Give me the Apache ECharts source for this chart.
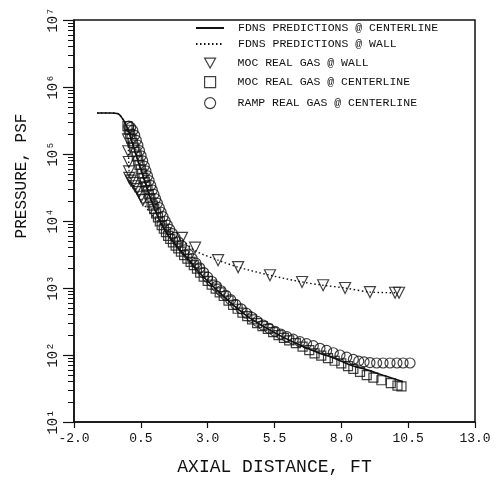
<!DOCTYPE html>
<html>
<head>
<meta charset="utf-8">
<script src="https://cdn.jsdelivr.net/npm/echarts@6/dist/echarts.min.js"></script>
<style>
  html, body { margin: 0; padding: 0; background: #fff; }
  #main { width: 503px; height: 489px; }
</style>
</head>
<body>
<div id="main"></div>
<script>
// FDNS predictions, centerline (solid line)
var fdnsCenterX = [-1.14, -0.65, -0.35, -0.17, -0.05, 0.10, 0.24, 0.39, 0.54, 0.69, 0.84, 1.03, 1.29, 1.59, 1.97, 2.34, 2.71, 3.35, 3.95, 4.58, 5.22, 5.82, 6.45, 7.09, 7.69, 8.33, 8.96, 9.56, 10.31];
var fdnsCenterP = [410000, 410000, 400000, 330000, 270000, 190000, 123000, 81000, 54000, 35000, 23000, 14500, 8700, 5600, 3700, 2500, 1660, 930, 560, 355, 250, 185, 141, 110, 91, 71, 60, 50, 40];

// FDNS predictions, wall (dotted line)
var fdnsWallX = [-1.14, -0.65, -0.35, -0.17, -0.05, 0.02, 0.04, 0.07, 0.15, 0.30, 0.47, 0.77, 1.14, 1.59, 2.04, 2.53, 3.39, 4.14, 5.33, 6.53, 7.32, 8.14, 9.07, 10.12];
var fdnsWallP = [410000, 410000, 400000, 330000, 270000, 180000, 100000, 50000, 38000, 30000, 22000, 14500, 9800, 6600, 5200, 3600, 2600, 2050, 1550, 1230, 1100, 1000, 870, 850];

// MOC real gas @ wall (triangles)
var mocWallX = [0.02, 0.03, 0.05, 0.06, 0.07, 0.13, 0.21, 0.28, 0.36, 0.43, 0.51, 0.58, 2.04, 2.53, 3.39, 4.14, 5.33, 6.53, 7.32, 8.14, 9.07, 10.01, 10.16];
var mocWallP = [165000, 110000, 76000, 55000, 44000, 40000, 37000, 33000, 30000, 27000, 23000, 20500, 5600, 4000, 2600, 2050, 1550, 1230, 1100, 1000, 870, 850, 850];

// MOC real gas @ centerline (squares)
var mocCenterX = [0.00, 0.05, 0.10, 0.15, 0.20, 0.25, 0.30, 0.35, 0.40, 0.45, 0.50, 0.55, 0.60, 0.65, 0.70, 0.75, 0.80, 0.85, 0.90, 0.95, 1.00, 1.07, 1.14, 1.21, 1.28, 1.36, 1.44, 1.52, 1.60, 1.70, 1.80, 1.90, 2.00, 2.12, 2.24, 2.36, 2.48, 2.60, 2.72, 2.85, 3.00, 3.15, 3.30, 3.45, 3.60, 3.78, 3.95, 4.12, 4.30, 4.48, 4.66, 4.85, 5.05, 5.25, 5.45, 5.65, 5.85, 6.05, 6.30, 6.55, 6.80, 7.00, 7.25, 7.50, 7.75, 8.00, 8.25, 8.45, 8.70, 8.95, 9.20, 9.50, 9.85, 10.10, 10.25];
var mocCenterP = [260000, 230000, 200000, 170000, 145000, 125000, 108000, 92000, 80000, 69000, 59000, 51000, 44000, 38000, 33000, 29000, 25000, 22000, 19000, 17000, 15000, 13000, 11300, 9900, 8700, 7700, 6800, 6000, 5400, 4800, 4300, 3900, 3500, 3100, 2750, 2450, 2200, 1950, 1700, 1480, 1280, 1120, 980, 860, 760, 650, 560, 490, 430, 380, 340, 300, 270, 245, 220, 198, 180, 165, 150, 133, 118, 106, 98, 90, 82, 75, 68, 62, 56, 50, 46, 42, 38, 35, 34];

// RAMP real gas @ centerline (circles)
var rampCenterX = [0.05, 0.12, 0.20, 0.27, 0.33, 0.39, 0.45, 0.51, 0.57, 0.63, 0.69, 0.75, 0.81, 0.87, 0.93, 0.99, 1.05, 1.12, 1.19, 1.26, 1.33, 1.41, 1.49, 1.58, 1.68, 1.78, 1.90, 2.02, 2.15, 2.28, 2.42, 2.56, 2.70, 2.85, 3.00, 3.16, 3.33, 3.50, 3.68, 3.86, 4.05, 4.25, 4.45, 4.65, 4.86, 5.08, 5.30, 5.52, 5.74, 5.96, 6.20, 6.45, 6.70, 6.95, 7.20, 7.45, 7.70, 7.95, 8.20, 8.45, 8.65, 8.85, 9.07, 9.32, 9.56, 9.82, 10.08, 10.31, 10.57];
var rampCenterP = [260000, 250000, 225000, 190000, 160000, 135000, 112000, 94000, 79000, 66000, 56000, 47000, 40000, 34000, 29000, 25000, 21500, 18500, 15800, 13500, 11600, 10000, 8700, 7500, 6500, 5700, 4900, 4300, 3700, 3200, 2750, 2350, 2000, 1700, 1450, 1250, 1060, 910, 780, 670, 570, 490, 420, 365, 318, 280, 250, 225, 205, 188, 172, 158, 148, 138, 126, 117, 108, 100, 93, 86, 81, 79, 77, 76, 76, 76, 76, 76, 76];

var xTicks = [-2, 0.5, 3, 5.5, 8, 10.5, 13];
var yTicks = [10, 100, 1000, 10000, 100000, 1000000, 10000000];
var yMinorTicks = [];
yTicks.slice(0, -1).forEach(function (d) {
  for (var k = 2; k <= 9; k++) yMinorTicks.push(d * k);
});
var supers = { 1: "\u00b9", 2: "\u00b2", 3: "\u00b3", 4: "\u2074", 5: "\u2075", 6: "\u2076", 7: "\u2077" };

function pairs(xs, ys) {
  return xs.map(function (x, i) { return [x, ys[i]]; });
}

var FONT = "Liberation Mono";
var INK = "#111";
var names = [
  "FDNS PREDICTIONS @ CENTERLINE",
  "FDNS PREDICTIONS @ WALL",
  "MOC REAL GAS @ WALL",
  "MOC REAL GAS @ CENTERLINE",
  "RAMP REAL GAS @ CENTERLINE"
];
var legendRows = [22, 38, 57, 76, 97];
// line samples are wide, marker samples are single glyphs
var legendIcons = [null, null, "path://M0,0 L10,0 L5,9 Z", "rect", "circle"];

var chart = echarts.init(document.getElementById("main"));
var hollow = { color: "rgba(0,0,0,0)", borderColor: INK, borderWidth: 1.2 };

chart.setOption({
  backgroundColor: "#fff",
  animation: false,
  grid: {
    left: 74, right: 28, top: 20, bottom: 67,
    show: true, borderColor: INK, borderWidth: 1.5
  },
  legend: names.map(function (n, i) {
    var isLine = i < 2;
    var item = { name: n };
    if (isLine) {
      item.itemStyle = { opacity: 0 };
    } else {
      item.icon = legendIcons[i];
      item.itemStyle = { color: "rgba(0,0,0,0)", borderColor: INK, borderWidth: 1.2 };
    }
    return {
      data: [item],
      left: isLine ? 195 : 204,
      top: legendRows[i],
      orient: "vertical",
      itemWidth: isLine ? 28 : 11,
      itemHeight: 11,
      padding: 0,
      selectedMode: false,
      textStyle: { fontFamily: FONT, fontSize: 11.5, color: INK, padding: [0, 0, 0, isLine ? 9 : 17] }
    };
  }),
  xAxis: {
    type: "value",
    min: -2,
    max: 13,
    name: "AXIAL DISTANCE, FT",
    nameLocation: "middle",
    nameGap: 36,
    nameTextStyle: { fontFamily: FONT, fontSize: 18, color: INK },
    axisLine: { onZero: false, lineStyle: { color: INK, width: 1.5 } },
    axisTick: { customValues: xTicks, length: 6, lineStyle: { color: INK, width: 1.2 } },
    axisLabel: {
      customValues: xTicks,
      margin: 10,
      fontFamily: FONT, fontSize: 13, color: INK,
      formatter: function (v) { return v.toFixed(1); }
    },
    splitLine: { show: false }
  },
  yAxis: [
    {
      type: "log",
      logBase: 10,
      min: 10,
      max: 10000000,
      name: "PRESSURE, PSF",
      nameLocation: "middle",
      nameGap: 44,
      nameRotate: 90,
      nameTextStyle: { fontFamily: FONT, fontSize: 16, color: INK, padding: [0, 0, 0, 90] },
      axisLine: { show: true, onZero: false, lineStyle: { color: INK, width: 1.5 } },
      axisTick: { customValues: yTicks, length: 11, lineStyle: { color: INK, width: 1.2 } },
      axisLabel: {
        customValues: yTicks,
        rotate: 90,
        margin: 14,
        fontFamily: FONT, fontSize: 14, color: INK,
        formatter: function (v) { return "10" + supers[Math.round(Math.log10(v))]; }
      },
      splitLine: { show: false }
    },
    {
      type: "log",
      logBase: 10,
      min: 10,
      max: 10000000,
      position: "left",
      axisLine: { show: false, onZero: false },
      axisTick: { customValues: yMinorTicks, length: 6, lineStyle: { color: INK, width: 1 } },
      axisLabel: { show: false },
      splitLine: { show: false }
    }
  ],
  series: [
    {
      name: names[0],
      type: "line",
      data: pairs(fdnsCenterX, fdnsCenterP),
      symbol: "none",
      smooth: 0.3,
      lineStyle: { color: INK, width: 1.6 },
      itemStyle: { color: INK },
      z: 5
    },
    {
      name: names[1],
      type: "line",
      data: pairs(fdnsWallX, fdnsWallP),
      symbol: "none",
      smooth: 0.3,
      lineStyle: { color: INK, width: 1.4, type: [1.5, 2.5] },
      itemStyle: { color: INK },
      z: 5
    },
    {
      name: names[2],
      type: "scatter",
      data: pairs(mocWallX, mocWallP),
      symbol: "triangle",
      symbolRotate: 180,
      symbolSize: 11,
      itemStyle: hollow
    },
    {
      name: names[3],
      type: "scatter",
      data: pairs(mocCenterX, mocCenterP),
      symbol: "rect",
      symbolSize: 9,
      itemStyle: hollow
    },
    {
      name: names[4],
      type: "scatter",
      data: pairs(rampCenterX, rampCenterP),
      symbol: "circle",
      symbolSize: 10,
      itemStyle: hollow
    }
  ]
});
</script>
</body>
</html>
